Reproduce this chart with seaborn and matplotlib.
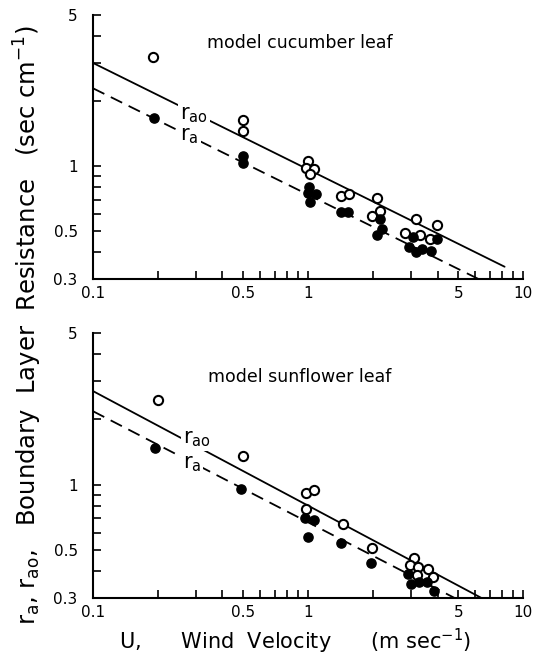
import matplotlib
matplotlib.use("Agg")
import matplotlib.pyplot as plt
import seaborn as sns
import pandas as pd
from matplotlib.ticker import FixedLocator, FixedFormatter, NullLocator

# ---------------- data ----------------
cuc_rao_u = [0.19, 0.5, 0.5, 1.0, 0.98, 1.07, 1.02, 1.42, 1.55, 2.09, 2.15, 1.98, 3.16, 2.81, 3.31, 3.68, 3.98]
cuc_rao_r = [3.2, 1.64, 1.46, 1.05, 0.98, 0.97, 0.92, 0.73, 0.74, 0.71, 0.62, 0.585, 0.57, 0.49, 0.48, 0.46, 0.535]
cuc_ra_u = [0.193, 0.5, 0.5, 1.01, 1.0, 1.09, 1.025, 1.42, 1.53, 2.15, 2.2, 2.1, 2.94, 3.07, 3.18, 3.4, 3.71, 3.98]
cuc_ra_r = [1.67, 1.11, 1.03, 0.80, 0.75, 0.74, 0.68, 0.61, 0.61, 0.57, 0.51, 0.48, 0.42, 0.47, 0.40, 0.415, 0.405, 0.46]
cuc_rao_line_u = [0.1, 8.2]
cuc_rao_line_r = [3.0, 0.342]
cuc_ra_line_u = [0.1, 6.2]
cuc_ra_line_r = [2.29, 0.30]

sun_rao_u = [0.2, 0.5, 0.98, 1.07, 0.975, 1.45, 1.98, 3.1, 2.98, 3.26, 3.61, 3.8, 3.2]
sun_rao_r = [2.45, 1.36, 0.91, 0.94, 0.77, 0.66, 0.51, 0.46, 0.425, 0.416, 0.407, 0.376, 0.382]
sun_ra_u = [0.194, 0.49, 0.965, 1.07, 1.0, 1.42, 1.96, 2.93, 3.0, 3.27, 3.57, 3.84]
sun_ra_r = [1.47, 0.95, 0.70, 0.69, 0.575, 0.54, 0.435, 0.387, 0.348, 0.356, 0.356, 0.324]
sun_rao_line_u = [0.1, 6.4]
sun_rao_line_r = [2.7, 0.30]
sun_ra_line_u = [0.1, 4.8]
sun_ra_line_r = [2.18, 0.30]

x_ticks = [0.1, 0.2, 0.3, 0.4, 0.5, 0.6, 0.7, 0.8, 0.9, 1, 2, 3, 4, 5, 6, 7, 8, 9, 10]
x_labels = ["0.1", "", "", "", "0.5", "", "", "", "", "1", "", "", "", "5", "", "", "", "", "10"]
y_ticks = [0.3, 0.4, 0.5, 0.6, 0.7, 0.8, 0.9, 1, 2, 3, 4, 5]
y_labels = ["0.3", "", "0.5", "", "", "", "", "1", "", "", "", "5"]

panel_titles = ["model cucumber leaf", "model sunflower leaf"]

# ---------------- figure ----------------
sns.set_style("ticks")
plt.rcParams['font.family'] = ['DejaVu Sans']
plt.rcParams['mathtext.fontset'] = 'dejavusans'
plt.rcParams['text.color'] = 'black'

fig = plt.figure(figsize=(5.33, 6.59), dpi=100)
ax_top = fig.add_axes([0.1745, 0.5766, 0.807, 0.4006])
ax_bot = fig.add_axes([0.1745, 0.0926, 0.807, 0.402])

panels = [
    (ax_top, cuc_rao_u, cuc_rao_r, cuc_ra_u, cuc_ra_r, cuc_rao_line_u, cuc_rao_line_r,
     cuc_ra_line_u, cuc_ra_line_r, panel_titles[0], 0.894, (0.255, 1.72), (0.255, 1.38)),
    (ax_bot, sun_rao_u, sun_rao_r, sun_ra_u, sun_ra_r, sun_rao_line_u, sun_rao_line_r,
     sun_ra_line_u, sun_ra_line_r, panel_titles[1], 0.834, (0.262, 1.62), (0.262, 1.24)),
]

for (ax, rao_u, rao_r, ra_u, ra_r, lu1, lr1, lu2, lr2, title, ty, pos_ao, pos_a) in panels:
    sns.lineplot(x=lu1, y=lr1, ax=ax, color="black", linewidth=1.3, zorder=2)
    sns.lineplot(x=lu2, y=lr2, ax=ax, color="black", linewidth=1.3, zorder=2,
                 linestyle=(0, (7, 4)))
    sns.scatterplot(x=rao_u, y=rao_r, ax=ax, marker="o", s=44, facecolor="white",
                    edgecolor="black", linewidth=1.5, zorder=4)
    sns.scatterplot(x=ra_u, y=ra_r, ax=ax, marker="o", s=44, color="black",
                    edgecolor="black", linewidth=1.0, zorder=5)
    ax.set_xscale("log")
    ax.set_yscale("log")
    ax.set_xlim(0.1, 10)
    ax.set_ylim(0.3, 5)
    ax.xaxis.set_major_locator(FixedLocator(x_ticks))
    ax.xaxis.set_major_formatter(FixedFormatter(x_labels))
    ax.xaxis.set_minor_locator(NullLocator())
    ax.yaxis.set_major_locator(FixedLocator(y_ticks))
    ax.yaxis.set_major_formatter(FixedFormatter(y_labels))
    ax.yaxis.set_minor_locator(NullLocator())
    ax.tick_params(axis="both", direction="in", length=6, width=1.2, labelsize=11,
                   colors="black")
    ax.tick_params(axis="y", pad=11)
    ax.tick_params(axis="x", pad=5)
    for s in ["top", "right"]:
        ax.spines[s].set_visible(False)
    for s in ["left", "bottom"]:
        ax.spines[s].set_linewidth(1.5)
        ax.spines[s].set_color("black")
    ax.text(0.48, ty, title, transform=ax.transAxes, ha="center", va="center",
            fontsize=12.5, color="black")
    bb = dict(facecolor="white", edgecolor="none", pad=1.5)
    ax.text(pos_ao[0], pos_ao[1], r"r$_{\mathrm{ao}}$", fontsize=15, ha="left",
            va="center", bbox=bb, zorder=3, color="black")
    ax.text(pos_a[0], pos_a[1], r"r$_{\mathrm{a}}$", fontsize=15, ha="left",
            va="center", bbox=bb, zorder=3, color="black")
    ax.set_xlabel("")
    ax.set_ylabel("")

fig.text(0.053, 0.507, r"r$_{\mathrm{a}}$, r$_{\mathrm{ao}}$,   Boundary  Layer  Resistance   (sec cm$^{-1}$)",
         rotation=90, ha="center", va="center", fontsize=17.5, color="black")
fig.text(0.553, 0.026, r"U,      Wind  Velocity      (m sec$^{-1}$)",
         ha="center", va="center", fontsize=15, color="black")

fig.savefig("out.png", dpi=100)
